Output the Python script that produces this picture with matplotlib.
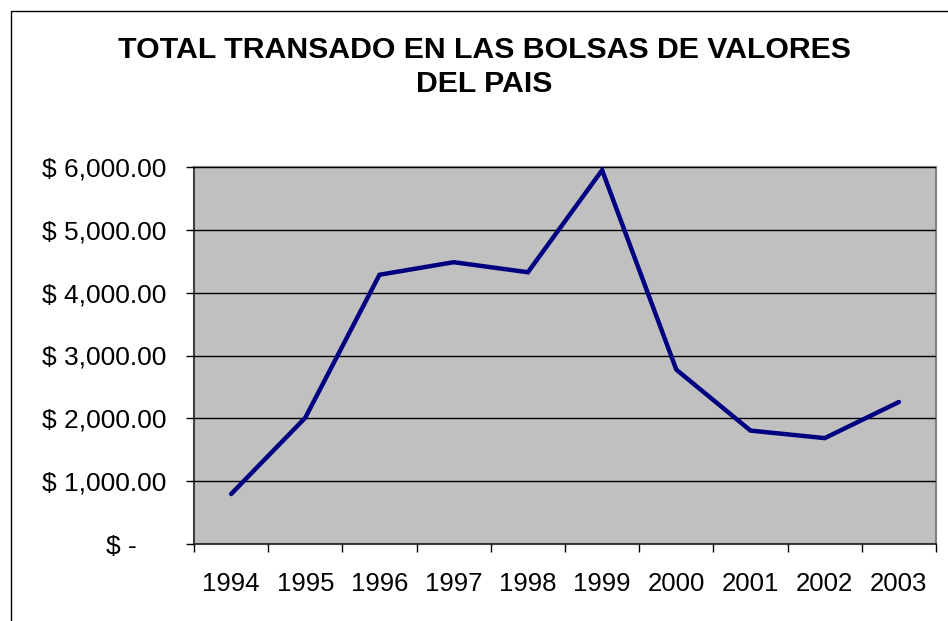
import matplotlib
matplotlib.use("Agg")
import matplotlib.pyplot as plt
from matplotlib.patches import Rectangle
from matplotlib.ticker import FixedLocator, FuncFormatter

years = ["1994", "1995", "1996", "1997", "1998", "1999", "2000", "2001", "2002", "2003"]
values = [795, 2010, 4285, 4485, 4325, 5950, 2775, 1805, 1685, 2260]
yticks = [0, 1000, 2000, 3000, 4000, 5000, 6000]
title = "TOTAL TRANSADO EN LAS BOLSAS DE VALORES\nDEL PAIS"

plt.rcParams['font.family'] = ['Liberation Sans', 'DejaVu Sans']

W, H = 948, 621
fig = plt.figure(figsize=(W / 100, H / 100), dpi=100)
fig.patch.set_facecolor("white")

# outer chart border
fig.patches.append(Rectangle((10.5 / W, -0.1), 1.2, (H - 10.5) / H + 0.1,
                             transform=fig.transFigure, fill=False,
                             edgecolor="black", linewidth=1.0))

ax = fig.add_axes([194 / W, (H - 544) / H, (936 - 194) / W, (544 - 167) / H])
ax.set_facecolor("#C0C0C0")

x = list(range(len(years)))
ax.plot(x, values, color="#000080", linewidth=3.2, solid_joinstyle="miter",
        solid_capstyle="round", zorder=3)

ax.set_xlim(-0.5, len(years) - 0.5)
ax.set_ylim(0, 6000)

ax.yaxis.set_major_locator(FixedLocator(yticks))

def fmt(v, pos):
    if v == 0:
        return "$ -    "
    return "$ {:,.2f}".format(v)

ax.yaxis.set_major_formatter(FuncFormatter(fmt))
ax.yaxis.grid(True, color="black", linewidth=1.0)
ax.set_axisbelow(False)

ax.xaxis.set_major_locator(FixedLocator([i - 0.5 for i in range(len(years) + 1)]))
ax.xaxis.set_major_formatter(FuncFormatter(lambda v, p: ""))
ax.xaxis.set_minor_locator(FixedLocator(x))
ax.set_xticks(x, years, minor=True)

ax.tick_params(axis="y", which="major", direction="out", length=6, width=1,
               color="black", labelsize=19, pad=14)
ax.tick_params(axis="x", which="major", direction="out", length=6, width=1,
               color="black")
ax.tick_params(axis="x", which="minor", length=0, labelsize=18.5, pad=20)

for s in ["left", "bottom"]:
    ax.spines[s].set_color("#404040")
    ax.spines[s].set_linewidth(1.5)
for s in ["top", "right"]:
    ax.spines[s].set_color("#808080")
    ax.spines[s].set_linewidth(1.5)

fig.text(484 / W, 1 - 67 / H, title, ha="center", va="center",
         fontsize=21.8, fontweight="bold", linespacing=1.3)

fig.savefig("out.png", dpi=100)
